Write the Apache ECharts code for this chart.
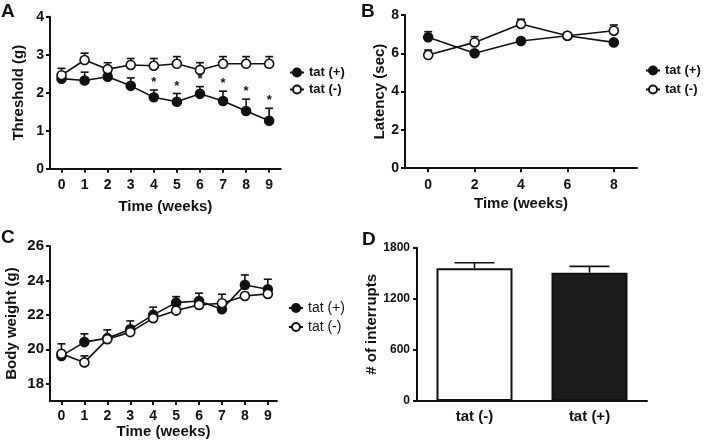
<!DOCTYPE html>
<html>
<head>
<meta charset="utf-8">
<script src="https://cdn.jsdelivr.net/npm/echarts@6/dist/echarts.min.js"></script>
<style>
html,body{margin:0;padding:0;background:#fff;}
#chart{width:706px;height:448px;}
</style>
</head>
<body>
<div id="chart"></div>
<script>
// ---------- data ----------
const weeks = [0, 1, 2, 3, 4, 5, 6, 7, 8, 9];
const threshPlus = [2.37, 2.32, 2.42, 2.18, 1.88, 1.76, 1.97, 1.78, 1.52, 1.26];
const threshPlusErr = [0.05, 0.22, 0.1, 0.21, 0.19, 0.22, 0.19, 0.26, 0.31, 0.33];
const threshMinus = [2.46, 2.86, 2.62, 2.73, 2.71, 2.76, 2.6, 2.76, 2.76, 2.76];
const threshMinusErr = [0.18, 0.18, 0.17, 0.17, 0.19, 0.19, 0.19, 0.19, 0.19, 0.19];
const threshSig = [0, 0, 0, 0, 1, 1, 1, 1, 1, 1];

const latWeeks = [0, 2, 4, 6, 8];
const latPlus = [6.84, 6.0, 6.64, 6.92, 6.57];
const latPlusErr = [0.29, 0.1, 0.1, 0.1, 0.15];
const latMinus = [5.91, 6.57, 7.53, 6.92, 7.18];
const latMinusErr = [0.26, 0.3, 0.25, 0.12, 0.3];

const bwPlus = [19.62, 20.42, 20.65, 21.17, 22.0, 22.71, 22.81, 22.33, 23.74, 23.49];
const bwPlusErr = [0.2, 0.48, 0.48, 0.48, 0.45, 0.35, 0.45, 0.2, 0.58, 0.58];
const bwMinus = [19.74, 19.24, 20.59, 21.0, 21.81, 22.25, 22.58, 22.68, 23.1, 23.22];
const bwMinusErr = [0.58, 0.38, 0.2, 0.2, 0.2, 0.2, 0.2, 0.52, 0.2, 0.2];

const groups = ['tat (-)', 'tat (+)'];
const interrupts = [1558, 1506];
const interruptsErr = [66, 75];

const seriesNames = ['tat (+)', 'tat (-)'];
const xTicksAC = [0, 1, 2, 3, 4, 5, 6, 7, 8, 9];
const xTicksB = [0, 2, 4, 6, 8];
const yTicksC = [18, 20, 22, 24, 26];

// ---------- helpers ----------
const FONT = 'Liberation Sans';
const INK = '#111';
const zip = (xs, ys) => xs.map((x, i) => [x, ys[i]]);
const zipErr = (xs, ys, es, ss) => xs.map((x, i) => [x, ys[i], es[i], ss ? ss[i] : 0]);
const plain = v => String(v);

function lbl(size, margin, extra) {
  return Object.assign({fontSize: size, fontWeight: 'bold', color: INK, fontFamily: FONT, margin: margin}, extra || {});
}
function nameStyle(size) {
  return {fontSize: size, fontWeight: 'bold', color: INK, fontFamily: FONT};
}
const axLine = {show: true, onZero: false, lineStyle: {color: INK, width: 2}};
function tick(extra) {
  return Object.assign({show: true, length: 4, lineStyle: {color: INK, width: 2}}, extra || {});
}

function errRender(capHalf) {
  return function (params, api) {
    const x = api.value(0), y = api.value(1), e = api.value(2), s = api.value(3);
    const p0 = api.coord([x, y]);
    const p1 = api.coord([x, y + e]);
    const children = [
      {type: 'line', shape: {x1: p0[0], y1: p0[1], x2: p1[0], y2: p1[1]}, style: {stroke: INK, lineWidth: 1.6}},
      {type: 'line', shape: {x1: p1[0] - capHalf, y1: p1[1], x2: p1[0] + capHalf, y2: p1[1]}, style: {stroke: INK, lineWidth: 1.6}}
    ];
    if (s) {
      children.push({type: 'text', x: p1[0], y: p1[1] - 1,
        style: {text: '*', align: 'center', verticalAlign: 'bottom', font: 'bold 13px ' + FONT, fill: INK}});
    }
    return {type: 'group', children: children};
  };
}

function errSeries(idx, data, capHalf) {
  return {type: 'custom', xAxisIndex: idx, yAxisIndex: idx, renderItem: errRender(capHalf),
    data: data, encode: {x: 0, y: 1}, z: 1, silent: true};
}
function lineSeries(idx, name, data, filled) {
  return {type: 'line', name: name, xAxisIndex: idx, yAxisIndex: idx, data: data,
    symbol: 'circle', symbolSize: 9, showSymbol: true,
    lineStyle: {color: INK, width: 1.6},
    itemStyle: {color: filled ? INK : '#fff', borderColor: INK, borderWidth: 1.6},
    z: filled ? 2 : 3, silent: true};
}

const barStyles = [
  {color: '#fff', borderColor: INK, borderWidth: 2},
  {color: '#1c1c1c', borderColor: INK, borderWidth: 2}
];

const option = {
  animation: false,
  backgroundColor: '#fff',
  grid: [
    {left: 50, top: 16.7, width: 230.7, height: 152},
    {left: 405, top: 15, width: 232, height: 153.2},
    {left: 50, top: 246, width: 227, height: 155},
    {left: 417, top: 247.7, width: 230, height: 153.3}
  ],
  xAxis: [
    {gridIndex: 0, type: 'value', min: -0.5, max: 9.5, splitLine: {show: false}, axisLine: axLine,
      axisTick: tick({customValues: xTicksAC}), axisLabel: lbl(14, 9, {customValues: xTicksAC}),
      name: 'Time (weeks)', nameLocation: 'middle', nameGap: 31, nameTextStyle: nameStyle(15)},
    {gridIndex: 1, type: 'value', min: -1, max: 9, splitLine: {show: false}, axisLine: axLine,
      axisTick: tick({customValues: xTicksB}), axisLabel: lbl(14, 10, {customValues: xTicksB}),
      name: 'Time (weeks)', nameLocation: 'middle', nameGap: 28, nameTextStyle: nameStyle(15)},
    {gridIndex: 2, type: 'value', min: -0.5, max: 9.4, splitLine: {show: false}, axisLine: axLine,
      axisTick: tick({customValues: xTicksAC}), axisLabel: lbl(14, 8, {customValues: xTicksAC}),
      name: 'Time (weeks)', nameLocation: 'middle', nameGap: 21, nameTextStyle: nameStyle(15)},
    {gridIndex: 3, type: 'category', data: groups, axisLine: axLine, axisTick: {show: false},
      axisLabel: lbl(15, 8)}
  ],
  yAxis: [
    {gridIndex: 0, type: 'value', min: 0, max: 4, interval: 1, splitLine: {show: false}, axisLine: axLine,
      axisTick: tick(), axisLabel: lbl(14, 6),
      name: 'Threshold (g)', nameLocation: 'middle', nameGap: 24, nameTextStyle: nameStyle(15)},
    {gridIndex: 1, type: 'value', min: 0, max: 8, interval: 2, splitLine: {show: false}, axisLine: axLine,
      axisTick: tick(), axisLabel: lbl(14, 6),
      name: 'Latency (sec)', nameLocation: 'middle', nameGap: 16, nameTextStyle: nameStyle(15)},
    {gridIndex: 2, type: 'value', min: 17, max: 26, splitLine: {show: false}, axisLine: axLine,
      axisTick: tick({customValues: yTicksC}), axisLabel: lbl(15, 6, {customValues: yTicksC}),
      name: 'Body weight (g)', nameLocation: 'middle', nameGap: 31, nameTextStyle: nameStyle(15)},
    {gridIndex: 3, type: 'value', min: 0, max: 1800, interval: 600, splitLine: {show: false}, axisLine: axLine,
      axisTick: tick(), axisLabel: lbl(12, 7, {formatter: plain}),
      name: '# of interrupts', nameLocation: 'middle', nameGap: 37, nameTextStyle: nameStyle(15)}
  ],
  legend: [
    {data: seriesNames, orient: 'vertical', left: 289, top: 66, itemWidth: 14, itemHeight: 10, itemGap: 4, padding: 0,
      selectedMode: false, textStyle: {fontSize: 13, fontWeight: 'bold', fontFamily: FONT, color: INK}},
    {data: seriesNames, orient: 'vertical', left: 645, top: 64, itemWidth: 14, itemHeight: 10, itemGap: 6, padding: 0,
      selectedMode: false, textStyle: {fontSize: 13, fontWeight: 'bold', fontFamily: FONT, color: INK}},
    {data: seriesNames, orient: 'vertical', left: 288, top: 301, itemWidth: 14, itemHeight: 10, itemGap: 5, padding: 0,
      selectedMode: false, textStyle: {fontSize: 14, fontWeight: 'normal', fontFamily: FONT, color: INK}}
  ],
  graphic: [
    {type: 'text', left: 1, top: 2, style: {text: 'A', font: 'bold 19px ' + FONT, fill: INK}},
    {type: 'text', left: 361, top: 2, style: {text: 'B', font: 'bold 19px ' + FONT, fill: INK}},
    {type: 'text', left: 1, top: 228, style: {text: 'C', font: 'bold 19px ' + FONT, fill: INK}},
    {type: 'text', left: 362, top: 230, style: {text: 'D', font: 'bold 19px ' + FONT, fill: INK}}
  ],
  series: [
    errSeries(0, zipErr(weeks, threshPlus, threshPlusErr, threshSig), 4),
    errSeries(0, zipErr(weeks, threshMinus, threshMinusErr), 4),
    lineSeries(0, seriesNames[0], zip(weeks, threshPlus), true),
    lineSeries(0, seriesNames[1], zip(weeks, threshMinus), false),

    errSeries(1, zipErr(latWeeks, latPlus, latPlusErr), 4),
    errSeries(1, zipErr(latWeeks, latMinus, latMinusErr), 4),
    lineSeries(1, seriesNames[0], zip(latWeeks, latPlus), true),
    lineSeries(1, seriesNames[1], zip(latWeeks, latMinus), false),

    errSeries(2, zipErr(weeks, bwPlus, bwPlusErr), 4),
    errSeries(2, zipErr(weeks, bwMinus, bwMinusErr), 4),
    lineSeries(2, seriesNames[0], zip(weeks, bwPlus), true),
    lineSeries(2, seriesNames[1], zip(weeks, bwMinus), false),

    {type: 'bar', xAxisIndex: 3, yAxisIndex: 3, barWidth: 76, silent: true,
      data: interrupts.map((v, i) => ({value: v, itemStyle: barStyles[i]})), z: 2},
    errSeries(3, groups.map((g, i) => [i, interrupts[i], interruptsErr[i], 0]), 20)
  ]
};

const chart = echarts.init(document.getElementById('chart'), null, {renderer: 'canvas'});
chart.setOption(option);
</script>
</body>
</html>
